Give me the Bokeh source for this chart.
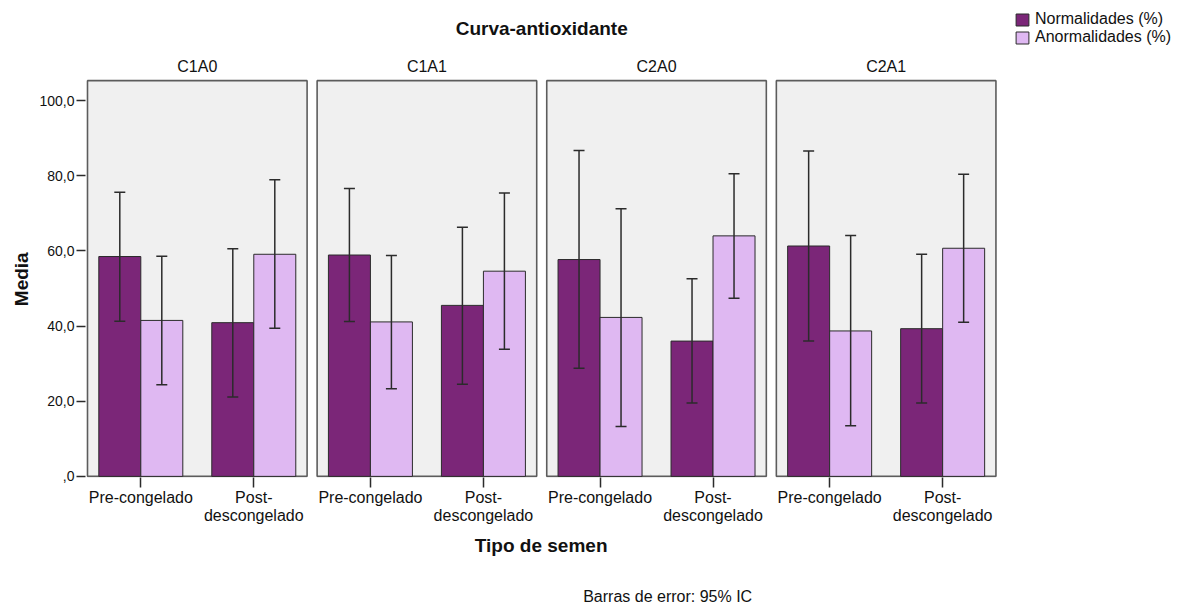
from bokeh.plotting import figure
from bokeh.models import (Range1d, ColumnDataSource, Whisker, TeeHead, FixedTicker,
                          Legend, LegendItem, Label, Title)
from bokeh.transform import dodge
from bokeh.core.properties import value
from bokeh.embed import file_html
from bokeh.resources import INLINE

# ---------------- data ----------------
title = "Curva-antioxidante"
panels = ["C1A0", "C1A1", "C2A0", "C2A1"]
tipos = ["Pre-congelado", "Post-\ndescongelado"]
series = ["Normalidades (%)", "Anormalidades (%)"]

normal_mean = [58.5, 40.9, 58.9, 45.5, 57.7, 36.0, 61.3, 39.3]
normal_lower = [41.3, 21.1, 41.2, 24.5, 28.8, 19.5, 36.0, 19.5]
normal_upper = [75.6, 60.6, 76.6, 66.3, 86.7, 52.6, 86.6, 59.1]
abnormal_mean = [41.5, 59.1, 41.1, 54.6, 42.3, 64.0, 38.7, 60.7]
abnormal_lower = [24.4, 39.4, 23.3, 33.8, 13.3, 47.4, 13.5, 41.0]
abnormal_upper = [58.6, 78.9, 58.8, 75.4, 71.2, 80.5, 64.1, 80.4]

y_ticks = [0, 20, 40, 60, 80, 100]
y_tick_labels = [",0", "20,0", "40,0", "60,0", "80,0", "100,0"]
y_label = "Media"
x_label = "Tipo de semen"
footnote = "Barras de error: 95% IC"

# ---------------- style / layout constants ----------------
FONT = "Liberation Sans"
DARK = "#7b2678"
LIGHT = "#dfb8f2"
EDGE = "#2b2b2b"
PANEL_BG = "#f0f0f0"
PANEL_EDGE = "#5c5c5c"
TEXT = "#111111"

W_PX, H_PX = 1182, 607
LEFT, BOTTOM = 85, 130           # room for the y axis / x axis + notes
FRAME_W = W_PX - LEFT
FRAME_H = H_PX - BOTTOM
PX = 106.6                       # pixels per x unit
FP = 0.06                        # gap between the two categories of a panel
PW = 2 + FP                      # panel width (x units)
PG = 0.094                       # gap between panels (x units)
BW = 0.394                       # width of one bar
PANEL_TOP = 105.3                # panel top (data units)
Y0 = -0.3
YSCALE = 3.758                   # pixels per y unit

# positions derived from the category structure
panel_left = [i * (PW + PG) for i in range(len(panels))]
panel_mid = [pl + PW / 2 for pl in panel_left]
cat_x = [pl + 0.5 + j * (1 + FP) for pl in panel_left for j in range(len(tipos))]
cat_lab = [t for _ in panels for t in tipos]

x0 = -2 / PX
p = figure(x_range=Range1d(x0, x0 + FRAME_W / PX),
           y_range=Range1d(Y0, Y0 + FRAME_H / YSCALE),
           width=W_PX, height=H_PX, output_backend="svg", toolbar_location=None, title=None,
           min_border_left=LEFT, min_border_right=0, min_border_top=0,
           min_border_bottom=BOTTOM)
p.outline_line_color = None
p.grid.visible = False
p.background_fill_color = "white"
p.border_fill_color = "white"

# panel backgrounds
p.rect(x=panel_mid, y=PANEL_TOP / 2, width=PW, height=PANEL_TOP,
       fill_color=PANEL_BG, line_color=PANEL_EDGE, line_width=1.6)

src = ColumnDataSource(dict(x=cat_x, nm=normal_mean, nl=normal_lower, nu=normal_upper,
                            am=abnormal_mean, al=abnormal_lower, au=abnormal_upper))

r1 = p.vbar(x=dodge("x", -BW / 2), top="nm", width=BW, source=src,
            fill_color=DARK, line_color=EDGE, line_width=1)
r2 = p.vbar(x=dodge("x", BW / 2), top="am", width=BW, source=src,
            fill_color=LIGHT, line_color=EDGE, line_width=1)

for off, lo, up in [(-BW / 2, "nl", "nu"), (BW / 2, "al", "au")]:
    p.add_layout(Whisker(base=dodge("x", off), lower=lo, upper=up, source=src,
                         line_color=EDGE, line_width=1.5, level="annotation",
                         upper_head=TeeHead(size=11, line_color=EDGE, line_width=1.5),
                         lower_head=TeeHead(size=11, line_color=EDGE, line_width=1.5)))

# panel titles
p.text(x=panel_mid, y=PANEL_TOP, text=panels, y_offset=-14, text_align="center",
       text_baseline="middle", text_font=value(FONT), text_font_size=value("16px"),
       text_color=TEXT)

# main title, centred over the panels
p.add_layout(Label(x=(panel_left[0] + panel_left[-1] + PW) / 2, y=FRAME_H - 28.3,
                   x_units="data", y_units="screen", text=title,
                   text_align="center", text_baseline="middle", text_font=FONT,
                   text_font_size="19px", text_font_style="bold", text_color=TEXT))

# legend
legend = Legend(items=[LegendItem(label=series[0], renderers=[r1]),
                       LegendItem(label=series[1], renderers=[r2])],
                location=(1014 - LEFT, FRAME_H - 10.2 - 36), orientation="vertical",
                padding=0, margin=0, spacing=0, glyph_width=16, glyph_height=15,
                label_standoff=5, label_height=15, border_line_color=None,
                background_fill_alpha=0, label_text_font=FONT, label_text_font_size="16px",
                label_text_line_height=1.0, label_text_color=TEXT)
p.add_layout(legend)

# x axis
xa = p.below[0]
xa.ticker = FixedTicker(ticks=cat_x, minor_ticks=[])
xa.major_label_overrides = dict(zip(cat_x, cat_lab))
xa.axis_line_color = None
xa.major_tick_out = 10
xa.major_tick_in = 0
xa.minor_tick_out = 0
xa.minor_tick_in = 0
xa.major_tick_line_color = EDGE
xa.major_tick_line_width = 1.5
xa.major_label_standoff = 1
xa.major_label_text_font = FONT
xa.major_label_text_font_size = "16px"
xa.major_label_text_color = TEXT
xa.major_label_text_line_height = 1.1

# x title, spacer and footnote (below the axis)
p.add_layout(Title(text=x_label, align="left", offset=474.3 - LEFT, standoff=10,
                   text_font=FONT, text_font_size="19px", text_font_style="bold",
                   text_line_height=1.0, text_color=TEXT), "below")
p.add_layout(Title(text=" ", align="left", standoff=21, text_font=FONT,
                   text_font_size="2px", text_line_height=1.0), "below")
p.add_layout(Title(text=footnote, align="left", offset=582.7 - LEFT, standoff=0,
                   text_font=FONT, text_font_size="16px", text_font_style="normal",
                   text_line_height=1.0, text_color=TEXT), "below")

# y axis
ya = p.left[0]
ya.ticker = FixedTicker(ticks=y_ticks, minor_ticks=[])
ya.major_label_overrides = dict(zip(y_ticks, y_tick_labels))
ya.axis_line_color = None
ya.major_tick_out = 9
ya.major_tick_in = 0
ya.minor_tick_out = 0
ya.minor_tick_in = 0
ya.major_tick_line_color = EDGE
ya.major_tick_line_width = 1.5
ya.major_label_standoff = 2
ya.major_label_text_font = FONT
ya.major_label_text_font_size = "14px"
ya.major_label_text_color = TEXT

# y title, centred on the panels' height
p.add_layout(Title(text=y_label, align="left", offset=FRAME_H - 305.7, standoff=9,
                   text_font=FONT, text_font_size="19px", text_font_style="bold",
                   text_line_height=1.0, text_color=TEXT), "left")

open("out.html", "w").write(file_html(p, INLINE))
